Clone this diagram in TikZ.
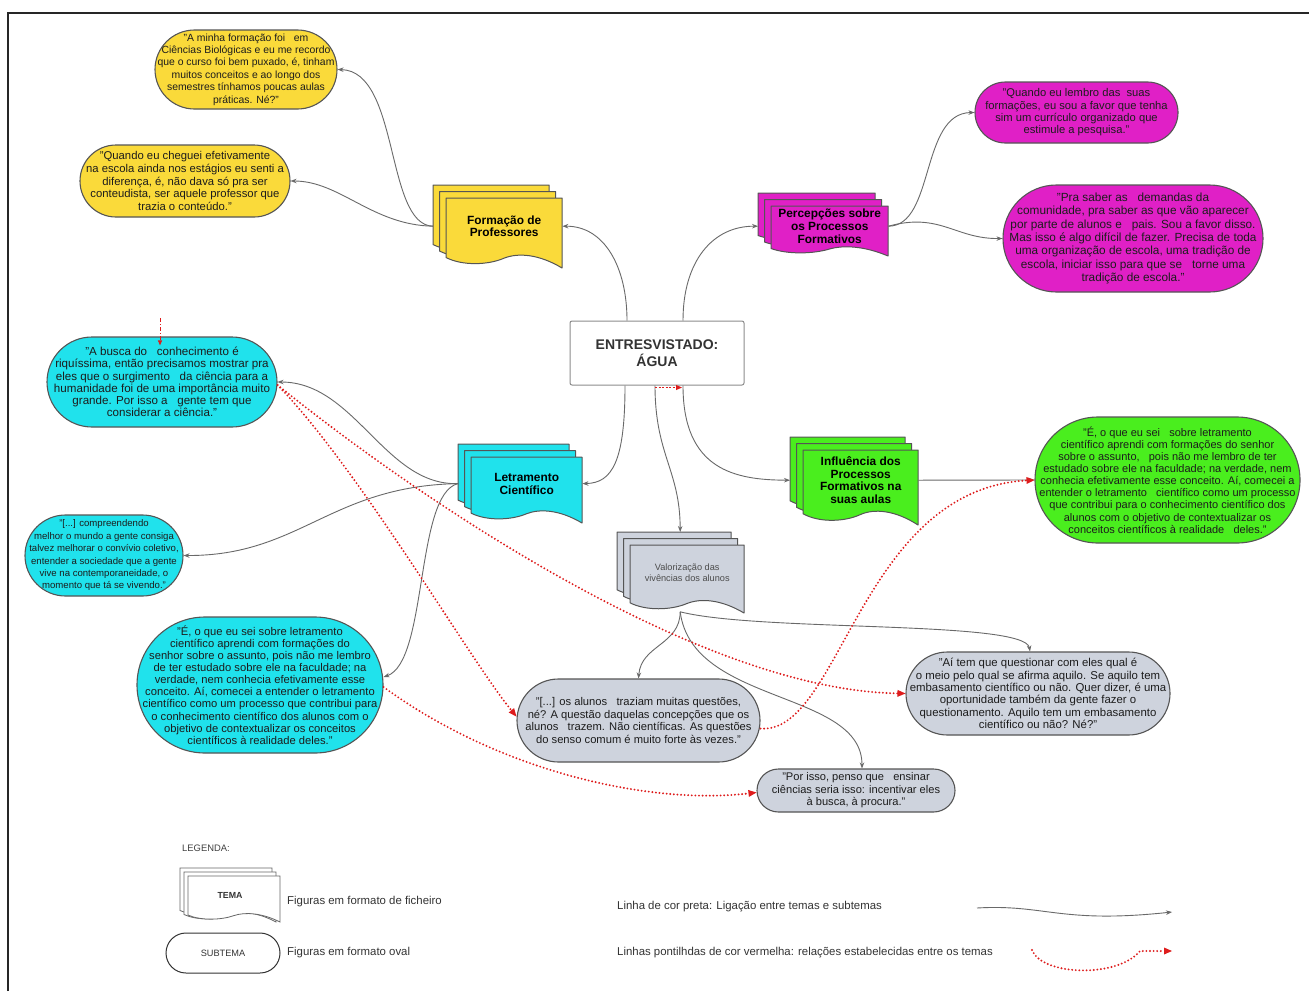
\documentclass[tikz,border=0pt]{standalone}
\usepackage{fontspec}
\setmainfont{Liberation Sans}
\usetikzlibrary{arrows.meta}

\definecolor{cYellow}{RGB}{250,218,58}
\definecolor{cMagenta}{RGB}{224,32,198}
\definecolor{cCyan}{RGB}{32,226,236}
\definecolor{cGreen}{RGB}{74,238,30}
\definecolor{cGrey}{RGB}{206,211,221}
\definecolor{cBorder}{RGB}{85,85,85}
\definecolor{cText}{RGB}{28,28,28}
\definecolor{cLink}{RGB}{105,105,105}
\definecolor{cRed}{RGB}{222,28,28}

\newcommand\sttxt{\bfseries\fontsize{11.9}{12.8}\selectfont}

% one sheet of a document stack: x0, y0, width, height (wavy bottom edge)
\newcommand\docsheet[5][]{%
  \draw[#1] ({#2},{#3}) -- ({#2+#4},{#3}) -- ({#2+#4},{#3+#5})
    .. controls ({#2+0.8*#4},{#3+0.8*#5}) and ({#2+0.62*#4},{#3+0.78*#5}) .. ({#2+0.5*#4},{#3+0.86*#5})
    .. controls ({#2+0.36*#4},{#3+0.96*#5}) and ({#2+0.14*#4},{#3+0.97*#5}) .. ({#2},{#3+0.85*#5}) -- cycle;}

% stack of three sheets with a named node over the front sheet
% #1 title style, #2 name, #3 x0, #4 y0, #5 w, #6 h, #7 fill, #8 text
\newcommand\docstack[8][]{%
  \docsheet[sheet, fill=#7]{#3-13}{#4-13}{#5}{#6}
  \docsheet[sheet, fill=#7]{#3-6.5}{#4-6.5}{#5}{#6}
  \docsheet[sheet, fill=#7]{#3}{#4}{#5}{#6}
  \node[stacktitle, #1, minimum width=#5 pt, minimum height=0.8*#6 pt, anchor=north west] (#2) at (#3,#4) {#8};}

\tikzset{
  sheet/.style={draw=cBorder, line width=1pt, line join=round},
  stacktitle/.style={inner sep=0pt, align=center, font=\sttxt, text=black},
  quote/.style={draw=cBorder, line width=1.1pt, align=center, text=cText, inner sep=0pt},
  qf/.style n args={2}{font=\fontsize{#1}{#2}\selectfont},
  stadium/.style n args={2}{minimum width=#1 pt, minimum height=#2 pt, rounded corners=0.5*#2 pt},
  link/.style={draw=cLink, line width=0.9pt, -{Stealth[length=6pt,width=4.5pt]}},
  relation/.style={draw=cRed, line width=2.1pt, line cap=round, dash pattern=on 0pt off 3.6pt,
    -{Triangle[length=8pt,width=7pt,fill=cRed,line width=0pt]}},
  legtext/.style={anchor=west, inner sep=0pt, font=\fontsize{11.4}{13}\selectfont, text=black!80},
}

\begin{document}
\begin{tikzpicture}[x=1pt,y=-1pt]
\useasboundingbox (0,0) rectangle (1309,991);
\fill[white] (0,0) rectangle (1309,991);
% frame
\draw[line width=2pt, black!85] (8,991) -- (8,13) -- (1309,13);

% centre
\node[draw=black!45, line width=1pt, rounded corners=2pt, minimum width=174pt, minimum height=64pt,
  align=center, text=black!80, font=\bfseries\fontsize{14}{17.5}\selectfont] (ctr) at (657,353) {ENTRESVISTADO:\\ÁGUA};

% themes
\docstack{form}{446}{198}{116}{70}{cYellow}{Formação de\\Professores}
\docstack{perc}{771}{206}{117}{50}{cMagenta}{Percepções sobre\\os Processos\\Formativos}
\docstack{letr}{471}{457}{111}{66}{cCyan}{Letramento\\Científico}
\docstack{infl}{803}{450}{115}{75}{cGreen}{Influência dos\\Processos\\Formativos na\\suas aulas}
\docstack[font=\fontsize{9.2}{11.2}\selectfont, text=black!70]{valo}{630}{545}{114}{68}{cGrey}{Valorização das\\vivências dos alunos}

% subthemes
\node[quote, qf={10.4}{12.4}, fill=cYellow, stadium={182}{79}] (y1) at (246,69.5)
 {"A minha formação foi \ \ em\\Ciências Biológicas e eu me recordo\\que o curso foi bem puxado, é, tinham\\muitos conceitos e ao longo dos\\semestres tínhamos poucas aulas\\práticas. Né?"};
\node[quote, qf={11.3}{12.7}, fill=cYellow, stadium={210}{72}] (y2) at (185,181)
 {"Quando eu cheguei efetivamente\\na escola ainda nos estágios eu senti a\\diferença, é, não dava só pra ser\\conteudista, ser aquele professor que\\trazia o conteúdo."};
\node[quote, qf={11.2}{12.3}, fill=cMagenta, stadium={203}{61}] (m1) at (1076.5,112.5)
 {"Quando eu lembro das \ suas\\formações, eu sou a favor que tenha\\sim um currículo organizado que\\estimule a pesquisa."};
\node[quote, qf={11.8}{13.4}, fill=cMagenta, stadium={260}{107}] (m2) at (1133,238.5)
 {"Pra saber as \ \ demandas da\\comunidade, pra saber as que vão aparecer\\por parte de alunos e \ \ pais. Sou a favor disso.\\Mas isso é algo difícil de fazer. Precisa de toda\\uma organização de escola, uma tradição de\\escola, iniciar isso para que se \ \ torne uma\\tradição de escola."};
\node[quote, qf={11.6}{12.2}, fill=cCyan, stadium={230}{90}] (c1) at (162,382)
 {"A busca do \ \ conhecimento é\\riquíssima, então precisamos mostrar pra\\eles que o surgimento \ \ da ciência para a\\humanidade foi de uma importância muito\\grande. Por isso a \ \ gente tem que\\considerar a ciência."};
\node[quote, qf={9.6}{12.4}, fill=cCyan, stadium={158}{81}] (c2) at (104,555.5)
 {"[...] compreendendo\\melhor o mundo a gente consiga\\talvez melhorar o convívio coletivo,\\entender a sociedade que a gente\\vive na contemporaneidade, o\\momento que tá se vivendo."};
\node[quote, qf={11.2}{12.1}, fill=cCyan, stadium={246}{136}] (c3) at (260,685)
 {"É, o que eu sei sobre letramento\\científico aprendi com formações do\\senhor sobre o assunto, pois não me lembro\\de ter estudado sobre ele na faculdade; na\\verdade, nem conhecia efetivamente esse\\conceito. Aí, comecei a entender o letramento\\científico como um processo que contribui para\\o conhecimento científico dos alunos com o\\objetivo de contextualizar os conceitos\\científicos à realidade deles."};
\node[quote, qf={11}{12.1}, fill=cGreen, stadium={265}{126}] (gr) at (1167.5,480)
 {"É, o que eu sei \ \ sobre letramento\\científico aprendi com formações do senhor\\sobre o assunto, \ \ pois não me lembro de ter\\estudado sobre ele na faculdade; na verdade, nem\\conhecia efetivamente esse conceito. Aí, comecei a\\entender o letramento \ \ científico como um processo\\que contribui para o conhecimento científico dos\\alunos com o objetivo de contextualizar os\\conceitos científicos à realidade \ \ deles."};
\node[quote, qf={11.2}{12.7}, fill=cGrey, stadium={243}{83}] (g1) at (638.5,720.5)
 {"[...] os alunos \ \ traziam muitas questões,\\né? A questão daquelas concepções que os\\alunos \ \ trazem. Não científicas. As questões\\do senso comum é muito forte às vezes."};
\node[quote, qf={11.4}{12.4}, fill=cGrey, stadium={264}{83}] (g2) at (1038,693.5)
 {"Aí tem que questionar com eles qual é\\o meio pelo qual se afirma aquilo. Se aquilo tem\\embasamento científico ou não. Quer dizer, é uma\\oportunidade também da gente fazer o\\questionamento. Aquilo tem um embasamento\\científico ou não? Né?"};
\node[quote, qf={11.1}{12.5}, fill=cGrey, stadium={198}{43}] (g3) at (856,790.5)
 {"Por isso, penso que \ \ ensinar\\ciências seria isso: incentivar eles\\à busca, à procura."};

% theme <-> subtheme links
\coordinate (fs) at ([xshift=-13pt]form.west);
\coordinate (ps) at (perc.east);
\coordinate (ls) at ([xshift=-13pt]letr.west);
\coordinate (vs) at ([xshift=-7pt,yshift=-12pt]valo.south);

\draw[link] ([xshift=-30pt]ctr.north) .. controls (627,268) and (605,226) .. (form.east);
\draw[link] ([xshift=26pt]ctr.north) .. controls (683,262) and (712,226) .. ([xshift=-13pt]perc.west);
\draw[link] ([xshift=-32pt]ctr.south) .. controls (625,462) and (612,483) .. (letr.east);
\draw[link] ([xshift=-2pt]ctr.south) .. controls (655,455) and (680,470) .. ([xshift=-7pt,yshift=13pt]valo.north);
\draw[link] ([xshift=26pt]ctr.south) .. controls (683,470) and (735,480) .. ([xshift=-13pt]infl.west);

\draw[link] (fs) .. controls (385,225) and (400,71) .. (y1.east);
\draw[link] (fs) .. controls (372,225) and (340,181) .. (y2.east);
\draw[link] (ps) .. controls (935,226) and (920,113) .. (m1.west);
\draw[link] (ps) .. controls (940,212) and (955,239) .. (m2.west);
\draw[link] (ls) .. controls (385,486) and (355,382) .. (c1.east);
\draw[link] (ls) .. controls (330,486) and (300,556) .. (c2.east);
\draw[link] (ls) .. controls (415,494) and (428,662) .. ([yshift=8pt]c3.east);
\draw[link] (infl.east) -- (gr.west);
\draw[link] (vs) .. controls (680,645) and (641,645) .. (g1.north);
\draw[link] (vs) .. controls (692,705) and (862,690) .. ([xshift=6pt]g3.north);
\draw[link] (vs) .. controls (760,632) and (1025,620) .. ([xshift=-8pt]g2.north);

% relations between themes
\draw[relation] ([yshift=-3pt]c1.east) .. controls (360,470) and (470,660) .. ([yshift=4pt]g1.west);
\draw[relation] ([yshift=-3pt]c1.east) .. controls (420,500) and (700,690) .. (g2.west);
\draw[relation] ([yshift=-2pt]c3.east) .. controls (500,772) and (650,805) .. ([yshift=-2pt]g3.west);
\draw[relation] ([yshift=-8pt]g1.east) .. controls (840,735) and (860,490) .. (gr.west);

\coordinate (ra) at ([xshift=-2pt,yshift=-2pt]ctr.south);
\coordinate (rb) at ([xshift=25pt,yshift=-2pt]ctr.south);
\draw[cRed, line width=1pt, dash pattern=on 2pt off 1.5pt, -{Triangle[length=6pt,width=5pt]}] (ra) -- (rb);
\coordinate (rc) at (160,318);
\draw[cRed, line width=0.9pt, dash pattern=on 4pt off 2pt on 1pt off 2pt, -{Triangle[length=5pt,width=4pt]}] (rc) -- ([xshift=-2pt,yshift=-9pt]c1.north);

% legend
\node[anchor=west, inner sep=0pt, font=\fontsize{9.4}{11}\selectfont, text=black!75] (leg) at (182,848) {LEGENDA:};
\docsheet[draw=black!60, line width=0.8pt, fill=white]{180}{868}{92}{50}
\docsheet[draw=black!60, line width=0.8pt, fill=white]{184}{872}{92}{50}
\docsheet[draw=black!60, line width=0.8pt, fill=white]{188}{876}{92}{46}
\node[inner sep=0pt, font=\bfseries\fontsize{8.8}{10}\selectfont, text=black!80] (legdoc) at (230,895) {TEMA};
\node[legtext] (legdoctxt) at (287,902) {Figuras em formato de ficheiro};
\node[draw=black!80, line width=1pt, minimum width=114pt, minimum height=40pt, rounded corners=20pt,
  inner sep=0pt, font=\fontsize{9.2}{10}\selectfont, text=black!80] (legoval) at (223,953) {SUBTEMA};
\node[legtext] (legovaltxt) at (287,953) {Figuras em formato oval};
\node[legtext] (leglink) at (617,907) {Linha de cor preta: Ligação entre temas e subtemas};
\node[legtext] (legrel) at (617,953) {Linhas pontilhdas de cor vermelha: relações estabelecidas entre os temas};
\coordinate (la) at (977,908);
\coordinate (lb) at (1172,912);
\draw[link] (la) .. controls (1045,904) and (1060,924) .. (lb);
\coordinate (lc) at (1032,950);
\coordinate (ld) at (1140,951);
\coordinate (le) at (1172,951);
\draw[relation] (lc) .. controls (1042,976) and (1118,978) .. (ld) -- (le);
\end{tikzpicture}
\end{document}
